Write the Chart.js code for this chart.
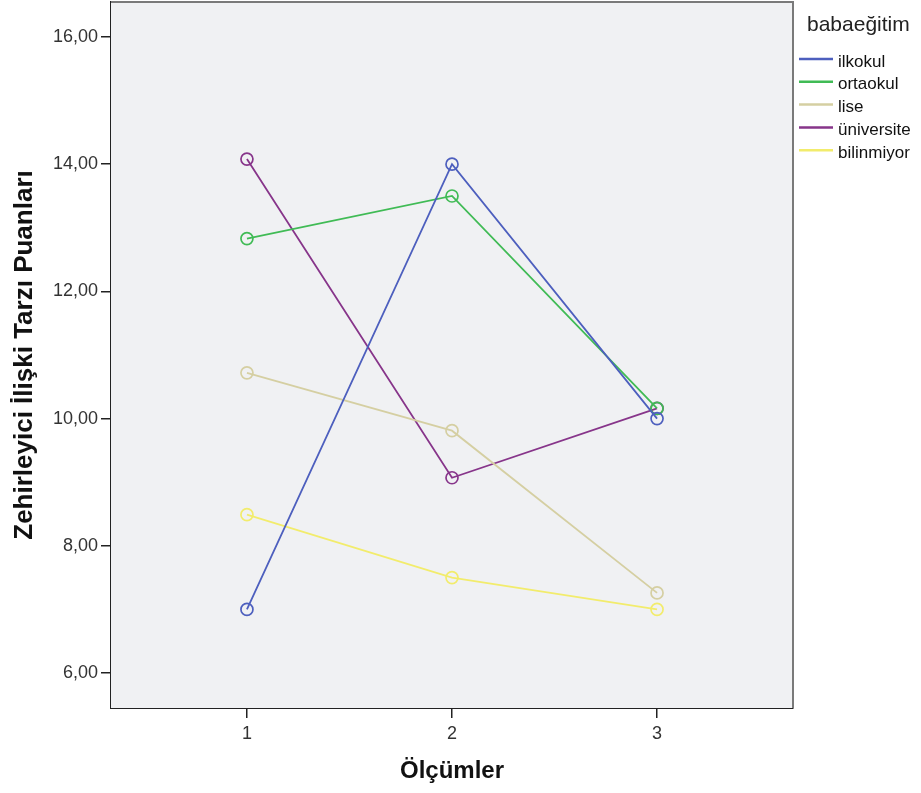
<!DOCTYPE html>
<html lang="tr">
<head>
<meta charset="utf-8">
<title>Zehirleyici İlişki Tarzı Puanları</title>
<script src="https://cdn.jsdelivr.net/npm/chart.js@4/dist/chart.umd.min.js"></script>
<style>
    html, body { margin: 0; padding: 0; background: #ffffff; }
    #wrap { width: 921px; height: 793px; }
</style>
</head>
<body>
<div id="wrap"><canvas id="profileChart" width="921" height="793"></canvas></div>
<script>
/* ==================== Data ==================== */
const measurements = [1, 2, 3];
const groups = ['ilkokul', 'ortaokul', 'lise', 'üniversite', 'bilinmiyor'];
const ilkokul = [7.0, 14.0, 10.0];
const ortaokul = [12.83, 13.5, 10.16];
const lise = [10.72, 9.81, 7.26];
const universite = [14.08, 9.07, 10.16];
const bilinmiyor = [8.49, 7.5, 7.0];
const yTicks = [6, 8, 10, 12, 14, 16];

const seriesValues = [ilkokul, ortaokul, lise, universite, bilinmiyor];
const seriesColors = ['#4d5fbe', '#40bb55', '#d5cfa2', '#87358a', '#f2ec6c'];

/* ==================== Config ==================== */
const FONT = '"Liberation Sans", Arial, sans-serif';
const PLOT_BG = '#f0f1f3';

/* ==================== Plot Frame ==================== */
const plotFrame = {
    id: 'plotFrame',
    beforeDatasetsDraw(chart) {
        const { ctx, chartArea: a } = chart;
        ctx.save();
        ctx.fillStyle = PLOT_BG;
        ctx.fillRect(a.left, a.top, a.right - a.left, a.bottom - a.top);
        ctx.strokeStyle = '#7a7a7a';
        ctx.lineWidth = 2;
        ctx.beginPath();
        ctx.moveTo(a.left, a.top);
        ctx.lineTo(a.right, a.top);
        ctx.lineTo(a.right, a.bottom);
        ctx.stroke();
        ctx.restore();
    }
};

/* ==================== Legend ==================== */
const sideLegend = {
    id: 'sideLegend',
    afterDraw(chart) {
        const ctx = chart.ctx;
        ctx.save();
        ctx.textBaseline = 'middle';
        ctx.textAlign = 'left';
        ctx.fillStyle = '#222';
        ctx.font = '21px ' + FONT;
        ctx.fillText('babaeğitim', 807, 25);

        ctx.font = '17px ' + FONT;
        chart.data.datasets.forEach((ds, i) => {
            const y = 62 + i * 22.8;
            ctx.strokeStyle = ds.borderColor;
            ctx.lineWidth = 2.5;
            ctx.beginPath();
            ctx.moveTo(799, y - 3);
            ctx.lineTo(833, y - 3);
            ctx.stroke();
            ctx.fillStyle = '#111';
            ctx.fillText(ds.label, 838, y);
        });
        ctx.restore();
    }
};

/* ==================== Chart ==================== */
const datasets = groups.map((name, i) => ({
    label: name,
    data: seriesValues[i].map((v, j) => ({ x: measurements[j], y: v })),
    borderColor: seriesColors[i],
    backgroundColor: 'rgba(0,0,0,0)',
    borderWidth: 1.8,
    pointStyle: 'circle',
    pointRadius: 6,
    pointBorderWidth: 1.7,
    pointBorderColor: seriesColors[i],
    pointBackgroundColor: 'rgba(0,0,0,0)',
    tension: 0,
    fill: false
}));

new Chart(document.getElementById('profileChart'), {
    type: 'line',
    data: { datasets },
    options: {
        responsive: false,
        animation: false,
        events: [],
        layout: {
            autoPadding: false,
            padding: { top: 2, right: 128, left: 0, bottom: 0 }
        },
        plugins: {
            legend: { display: false },
            tooltip: { enabled: false }
        },
        scales: {
            x: {
                type: 'linear',
                min: 0.337,
                max: 3.663,
                afterFit(scale) {
                    scale.height = 85;
                    scale.paddingLeft = 0;
                    scale.paddingRight = 0;
                },
                afterBuildTicks(scale) {
                    scale.ticks = measurements.map(v => ({ value: v }));
                },
                grid: { drawOnChartArea: false, drawTicks: true, tickLength: 10, color: '#222', lineWidth: 1.5 },
                border: { display: true, color: '#222', width: 2 },
                ticks: {
                    color: '#333',
                    padding: 5,
                    font: { family: FONT, size: 18 },
                    callback: v => String(v)
                },
                title: {
                    display: true,
                    text: 'Ölçümler',
                    color: '#111',
                    font: { family: FONT, size: 24, weight: 'bold' },
                    padding: { top: 0, bottom: 7 }
                }
            },
            y: {
                min: 5.45,
                max: 16.55,
                afterFit(scale) {
                    scale.width = 111;
                    scale.paddingTop = 0;
                    scale.paddingBottom = 0;
                },
                afterBuildTicks(scale) {
                    scale.ticks = yTicks.map(v => ({ value: v }));
                },
                grid: { drawOnChartArea: false, drawTicks: true, tickLength: 10, color: '#222', lineWidth: 1.5 },
                border: { display: true, color: '#222', width: 2 },
                ticks: {
                    color: '#333',
                    padding: 3,
                    font: { family: FONT, size: 18 },
                    callback: v => v.toFixed(2).replace('.', ',')
                },
                title: {
                    display: true,
                    text: 'Zehirleyici İlişki Tarzı Puanları',
                    color: '#111',
                    font: { family: FONT, size: 26, weight: 'bold' },
                    padding: { top: 9, bottom: 0 }
                }
            }
        }
    },
    plugins: [plotFrame, sideLegend]
});
</script>
</body>
</html>
